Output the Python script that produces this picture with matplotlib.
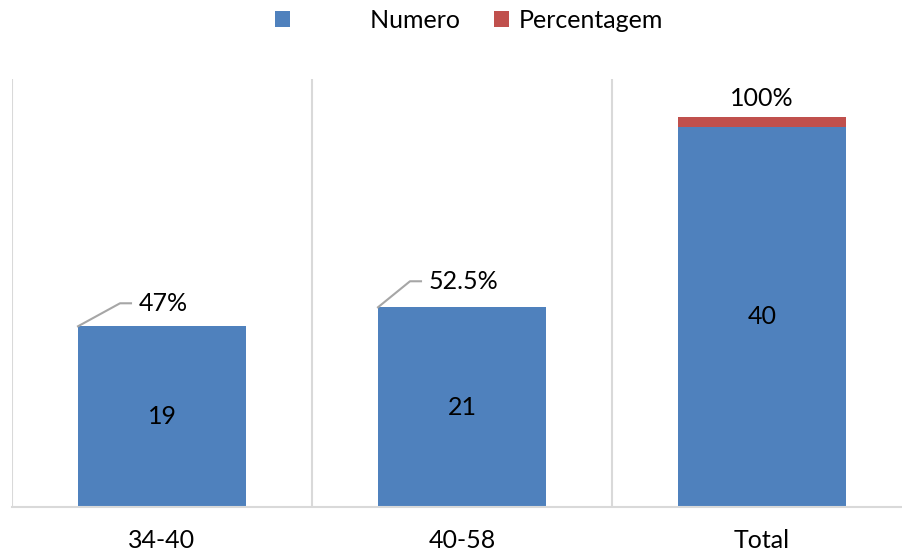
import matplotlib
matplotlib.use('Agg')
import matplotlib.pyplot as plt
import matplotlib.transforms as mtransforms
from matplotlib.lines import Line2D

plt.rcParams['font.family'] = ['Lato', 'DejaVu Sans']

# faixas etarias
CATEGORIES = ['34-40', '40-58', 'Total']
NUMERO = [19, 21, 40]
PERC_BAR = [0, 0, 1.0]          # segmento vermelho empilhado
PERC_LABELS = ['47%', '52.5%', '100%']

BLUE = '#4F81BD'
RED = '#C0504D'
GRID = '#D9D9D9'
W = 0.56
FS = 18

fig = plt.figure(figsize=(9.03, 5.53), dpi=100)
ax = fig.add_axes([12 / 903, 1 - 507 / 553, 900 / 903, (507 - 79) / 553])

x = list(range(len(CATEGORIES)))
ax.bar(x, NUMERO, W, color=BLUE, label='           Numero', zorder=2)
ax.bar(x, PERC_BAR, W, bottom=NUMERO, color=RED, label='Percentagem', zorder=2)

ax.set_xlim(-0.5, 2.5)
ax.set_ylim(0, 45)
ax.set_yticks([])
ax.set_xticks(x)
ax.set_xticklabels(CATEGORIES, fontsize=FS)
ax.tick_params(axis='x', length=0, pad=16)
for s in ['top', 'right', 'left']:
    ax.spines[s].set_visible(False)
ax.spines['bottom'].set_color(GRID)
ax.spines['bottom'].set_linewidth(1.5)

# linhas verticais entre categorias
for xb in [-0.5, 0.5, 1.5]:
    ax.axvline(xb, color=GRID, lw=1.5, zorder=1)

# valores dentro das barras azuis
for xi, n in zip(x, NUMERO):
    ax.text(xi, n / 2, str(n), ha='center', va='center', fontsize=FS)

# rotulos de percentagem com linha de chamada
for xi, n, p, lab in zip(x, NUMERO, PERC_BAR, PERC_LABELS):
    if p > 0:
        ax.annotate(lab, (xi, n + p), xytext=(0, 5), textcoords='offset points',
                    ha='center', va='bottom', fontsize=FS)
        continue
    t = fig.dpi_scale_trans + mtransforms.ScaledTranslation(xi - W / 2, n, ax.transData)
    dy = 0.23 if xi == 0 else 0.26
    dx = 0.42 if xi == 0 else 0.32
    ax.add_line(Line2D([0, dx, dx + 0.11], [0, dy, dy], transform=t,
                       color='#A6A6A6', lw=1.5, zorder=3))
    ax.text(dx + 0.19, dy, lab, transform=t, ha='left', va='center', fontsize=FS)

fig.legend(loc='center', bbox_to_anchor=(469 / 903, 1 - 20 / 553), ncol=2,
           frameon=False, fontsize=FS, handlelength=0.6, handleheight=0.6,
           handletextpad=0.4, columnspacing=1.36)

plt.savefig('out.png', dpi=100)
